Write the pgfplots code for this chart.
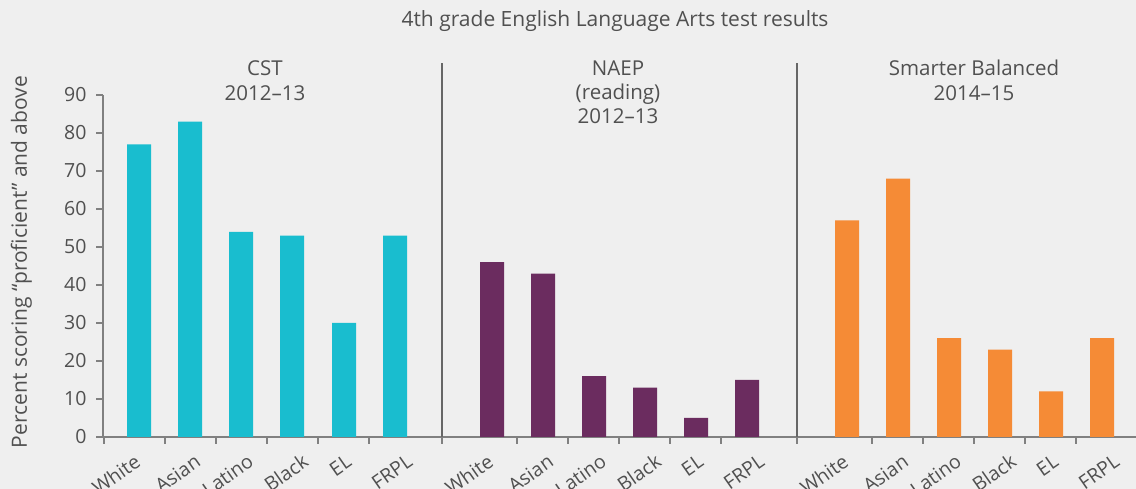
\documentclass[border=0pt]{standalone}
\usepackage{fontspec}
\setmainfont{Open Sans}
\usepackage{pgfplots}
\pgfplotsset{compat=1.18}
\definecolor{bg}{HTML}{EFEFEF}
\definecolor{txt}{HTML}{505050}
\definecolor{axc}{HTML}{808080}
\definecolor{sepc}{HTML}{666666}
\definecolor{cstc}{HTML}{19BDCF}
\definecolor{naepc}{HTML}{6B2C5F}
\definecolor{sbc}{HTML}{F58B36}
\begin{document}
\begin{tikzpicture}[x=1pt,y=1pt,font=\fontsize{20.5}{24}\selectfont,text=txt]
\fill[bg] (0,0) rectangle (1136,489);
\begin{axis}[
  at={(103pt,52pt)}, anchor=south west,
  scale only axis, width=1033pt, height=342pt,
  xmin=103, xmax=1136, ymin=0, ymax=90,
  axis x line*=bottom, axis y line*=left,
  axis line style={draw=axc, line width=1.8pt},
  tick align=outside, major tick length=7pt,
  tick style={draw=axc, line width=1.5pt},
  ytick={0,10,...,90},
  xtick={104,165,216,267,318,369,442,517,568,619,670,721,797,872,923,974,1025,1076},
  xticklabels={},
  extra x ticks={142,202,255,310,353,414,495,555,608,663,705,766,850,910,963,1018,1060,1121},
  extra x tick labels={White,Asian,Latino,Black,EL,FRPL,White,Asian,Latino,Black,EL,FRPL,White,Asian,Latino,Black,EL,FRPL},
  extra x tick style={major tick length=0pt, tick label style={yshift=-28pt, rotate=35, anchor=base east, inner sep=0pt}},
  tick label style={font=\fontsize{19.5}{23}\selectfont, text=txt},
  y tick label style={xshift=-6pt},
  /pgf/number format/assume math mode=true,
]
\addplot[ybar, bar width=24, bar shift=0pt, fill=cstc, draw=none] coordinates {
  (139,77) (190,83) (241,54) (292,53) (344,30) (395,53)};
\addplot[ybar, bar width=24, bar shift=0pt, fill=naepc, draw=none] coordinates {
  (492,46) (543,43) (594,16) (645,13) (696,5) (747,15)};
\addplot[ybar, bar width=24, bar shift=0pt, fill=sbc, draw=none] coordinates {
  (847,57) (898,68) (949,26) (1000,23) (1051,12) (1102,26)};
\end{axis}
\draw[sepc, line width=1.2pt] (442,52) -- (442,426);
\draw[sepc, line width=1.2pt] (797,52) -- (797,426);
\node[anchor=base,font=\fontsize{21}{24}\selectfont] at (615,462.3) {4th grade English Language Arts test results};
\node[anchor=base] at (265,413) {CST};
\node[anchor=base] at (265,388.3) {2012–13};
\node[anchor=base] at (618,413) {NAEP};
\node[anchor=base] at (618,389) {(reading)};
\node[anchor=base] at (618,365) {2012–13};
\node[anchor=base] at (974,413) {Smarter Balanced};
\node[anchor=base] at (974,388.3) {2014–15};
\node[rotate=90, anchor=base,font=\fontsize{21}{24}\selectfont] at (27,227) {Percent scoring “proficient” and above};
\pgfresetboundingbox
\path[use as bounding box] (0,0) rectangle (1136,489);
\end{tikzpicture}
\end{document}
